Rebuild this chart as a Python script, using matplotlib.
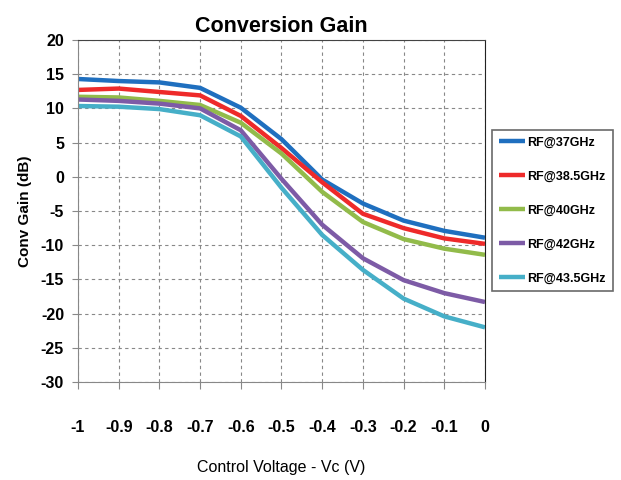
import matplotlib
matplotlib.use("Agg")
import matplotlib.pyplot as plt

vc = [-1.0, -0.9, -0.8, -0.7, -0.6, -0.5, -0.4, -0.3, -0.2, -0.1, 0.0]
rf37 = [14.3, 14.0, 13.8, 13.0, 10.1, 5.5, -0.4, -3.9, -6.4, -7.9, -8.9]
rf385 = [12.7, 12.9, 12.4, 11.9, 8.9, 4.2, -0.8, -5.4, -7.5, -9.0, -9.8]
rf40 = [11.7, 11.6, 11.1, 10.5, 7.9, 3.4, -2.2, -6.6, -9.1, -10.5, -11.4]
rf42 = [11.3, 11.1, 10.7, 10.0, 6.8, -0.3, -7.0, -11.9, -15.1, -17.0, -18.3]
rf435 = [10.35, 10.25, 9.9, 9.0, 5.9, -1.6, -8.5, -13.6, -17.8, -20.4, -22.0]
labels = ["RF@37GHz", "RF@38.5GHz", "RF@40GHz", "RF@42GHz", "RF@43.5GHz"]
colors = ["#1f6fbf", "#ee2a2a", "#92bb4a", "#7d5ba6", "#46afc8"]
xticks = [-1, -0.9, -0.8, -0.7, -0.6, -0.5, -0.4, -0.3, -0.2, -0.1, 0]
xticklabels = ["-1", "-0.9", "-0.8", "-0.7", "-0.6", "-0.5", "-0.4", "-0.3", "-0.2", "-0.1", "0"]

plt.rcParams['font.family'] = ['Liberation Sans', 'DejaVu Sans']
plt.rcParams['axes.unicode_minus'] = False
fig = plt.figure(figsize=(6.21, 4.80), dpi=100)
ax = fig.add_axes([0.1256, 0.204, 0.6554, 0.7127])

for ys, c, lab in zip([rf37, rf385, rf40, rf42, rf435], colors, labels):
    ax.plot(vc, ys, color=c, lw=3.2, label=lab, solid_capstyle='butt')

ax.set_xlim(-1, 0)
ax.set_ylim(-30, 20)
ax.set_yticks(range(-30, 21, 5))
ax.set_xticks(xticks)
ax.set_xticklabels(xticklabels)
ax.grid(True, linestyle=(0, (3, 3)), color='#888888', lw=0.8)
ax.tick_params(axis='x', direction='out', length=5, pad=22, labelsize=11.5, colors='#888888', labelcolor='black')
ax.tick_params(axis='y', direction='out', length=4, pad=6, labelsize=11.5, colors='#888888', labelcolor='black')
for lbl in ax.get_xticklabels() + ax.get_yticklabels():
    lbl.set_fontweight('bold')
ax.spines['left'].set_color('#888888')
ax.spines['bottom'].set_color('#888888')
ax.spines['top'].set_color('#444444')
ax.spines['right'].set_color('#222222')

ax.set_title("Conversion Gain", fontsize=15.5, fontweight='bold', pad=6)
ax.set_xlabel("Control Voltage - Vc (V)", fontsize=11.5, labelpad=18)
ax.set_ylabel("Conv Gain (dB)", fontsize=11, fontweight='bold', labelpad=6)

leg = ax.legend(loc='upper left', bbox_to_anchor=(1.017, 0.737), frameon=True, fancybox=False,
                edgecolor='#444444', fontsize=9, handlelength=2.1, handletextpad=0.2,
                labelspacing=1.75, borderpad=0.55, borderaxespad=0)
leg.get_frame().set_linewidth(1.2)
for t in leg.get_texts():
    t.set_fontweight('bold')

fig.savefig("out.png", dpi=100)
